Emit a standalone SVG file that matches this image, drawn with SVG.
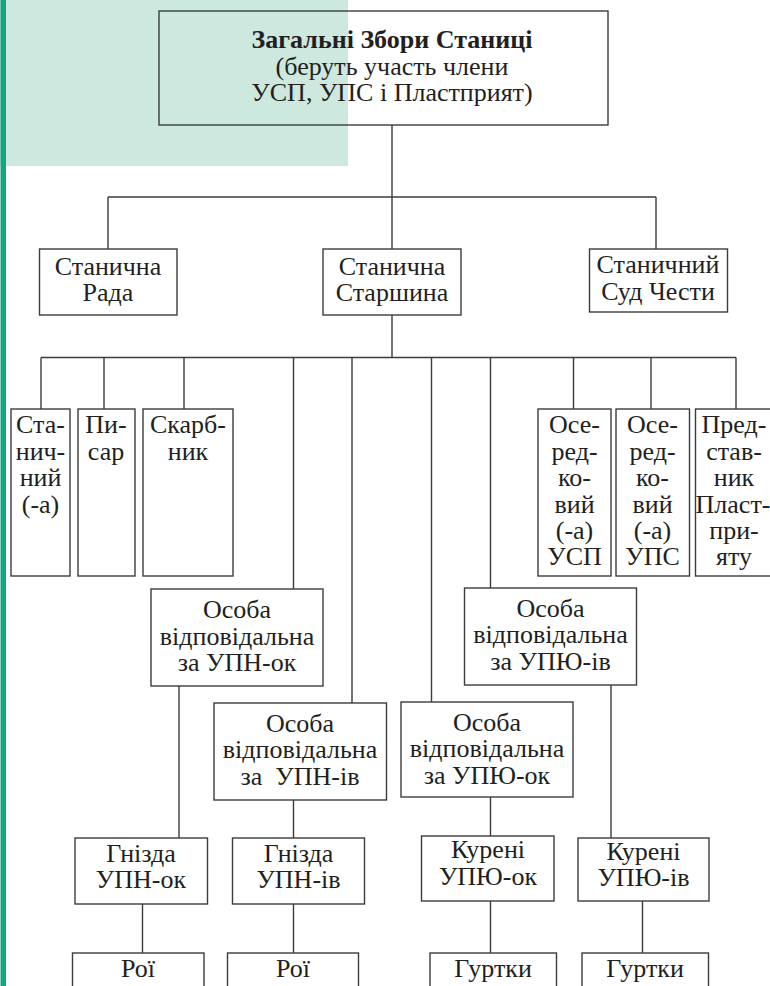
<svg xmlns="http://www.w3.org/2000/svg" width="770" height="986" viewBox="0 0 770 986">
<style>
.bx{fill:none;stroke:#3c3c3c;stroke-width:1.4}
.ln{fill:none;stroke:#3c3c3c;stroke-width:1.4}
text{font-family:"Liberation Serif",serif;font-size:26px;fill:#231f20;text-anchor:middle}
.b{font-weight:bold}
</style>
<rect x="0" y="0" width="770" height="986" fill="#ffffff"/>
<rect x="0" y="0" width="348" height="166" fill="#cce8df"/>
<rect x="0.5" y="0" width="5.5" height="986" fill="#12a683"/>
<g id="connectors">
<path class="ln" d="M392 125V197M108 197H656M108 197V249M392 197V249M656 197V249"/>
<path class="ln" d="M392 315V357.5M41 357.5H736M41 357.5V409M104 357.5V409M184 357.5V409M293.5 357.5V589M352 357.5V703M431.5 357.5V702M490.5 357.5V588M573.5 357.5V409M651 357.5V409M736 357.5V409"/>
<path class="ln" d="M179 686V838M293.5 800V838M142.5 904V953M293.5 904V953"/>
<path class="ln" d="M490.5 797V836M611 685V838M490.5 901V953M642.5 901V953"/>
</g>
<g id="n-zbory"><rect class="bx" x="159" y="11" width="449" height="114"/>
<text x="392" y="48" class="b">Загальні Збори Станиці</text>
<text x="392" y="75">(беруть участь члени</text>
<text x="392" y="101">УСП, УПС і Пластприят)</text></g>
<g id="n-rada"><rect class="bx" x="39.5" y="249" width="137.5" height="66"/>
<text x="108" y="275">Станична</text><text x="108" y="301">Рада</text></g>
<g id="n-starshyna"><rect class="bx" x="323" y="249" width="138" height="66"/>
<text x="392" y="275">Станична</text><text x="392" y="301">Старшина</text></g>
<g id="n-sud"><rect class="bx" x="589.5" y="249" width="138" height="63"/>
<text x="658" y="273">Станичний</text><text x="658" y="300">Суд Чести</text></g>
<g id="n-stanychnyi"><rect class="bx" x="11" y="409" width="59" height="167"/>
<text x="40.5" y="433">Ста-</text><text x="40.5" y="460">нич-</text><text x="40.5" y="486">ний</text><text x="40.5" y="513">(-а)</text></g>
<g id="n-pysar"><rect class="bx" x="78" y="409" width="57" height="167"/>
<text x="106" y="433">Пи-</text><text x="106" y="460">сар</text></g>
<g id="n-skarbnyk"><rect class="bx" x="143" y="409" width="90" height="167"/>
<text x="188" y="433">Скарб-</text><text x="188" y="460">ник</text></g>
<g id="n-usp"><rect class="bx" x="538" y="409" width="73" height="167"/>
<text x="574.5" y="433">Осе-</text><text x="574.5" y="460">ред-</text><text x="574.5" y="486">ко-</text><text x="574.5" y="513">вий</text><text x="574.5" y="539">(-а)</text><text x="574.5" y="565">УСП</text></g>
<g id="n-ups"><rect class="bx" x="616" y="409" width="73.5" height="167"/>
<text x="652.5" y="433">Осе-</text><text x="652.5" y="460">ред-</text><text x="652.5" y="486">ко-</text><text x="652.5" y="513">вий</text><text x="652.5" y="539">(-а)</text><text x="652.5" y="565">УПС</text></g>
<g id="n-predstavnyk"><rect class="bx" x="695.5" y="409" width="90" height="167"/>
<text x="734" y="433">Пред-</text><text x="734" y="460">став-</text><text x="734" y="486">ник</text><text x="733" y="513">Пласт-</text><text x="734" y="539">при-</text><text x="734" y="565">яту</text></g>
<g id="n-upn-ok"><rect class="bx" x="151" y="589" width="172" height="97"/>
<text x="237" y="618">Особа</text><text x="237" y="645">відповідальна</text><text x="237" y="671">за УПН-ок</text></g>
<g id="n-upn-iv"><rect class="bx" x="214" y="703" width="172.5" height="97"/>
<text x="300" y="732">Особа</text><text x="300" y="758">відповідальна</text><text x="300" y="785" xml:space="preserve">за  УПН-ів</text></g>
<g id="n-upyu-ok"><rect class="bx" x="401" y="702" width="172" height="95"/>
<text x="487" y="731">Особа</text><text x="487" y="757">відповідальна</text><text x="487" y="784">за УПЮ-ок</text></g>
<g id="n-upyu-iv"><rect class="bx" x="464.5" y="588" width="172" height="97"/>
<text x="550.5" y="617">Особа</text><text x="550.5" y="643">відповідальна</text><text x="550.5" y="670">за УПЮ-ів</text></g>
<g id="n-hnizda-ok"><rect class="bx" x="75" y="838" width="132.5" height="66"/>
<text x="141" y="862">Гнізда</text><text x="141" y="888">УПН-ок</text></g>
<g id="n-hnizda-iv"><rect class="bx" x="232.5" y="838" width="132" height="66"/>
<text x="298.5" y="862">Гнізда</text><text x="298.5" y="888">УПН-ів</text></g>
<g id="n-kureni-ok"><rect class="bx" x="421.5" y="836" width="132.5" height="65"/>
<text x="488" y="858">Курені</text><text x="488" y="885">УПЮ-ок</text></g>
<g id="n-kureni-iv"><rect class="bx" x="578" y="838" width="131" height="63"/>
<text x="643.5" y="860">Курені</text><text x="643.5" y="886">УПЮ-ів</text></g>
<g id="n-roi-ok"><rect class="bx" x="72.5" y="953" width="131.5" height="50"/>
<text x="138" y="977">Рої</text></g>
<g id="n-roi-iv"><rect class="bx" x="227.5" y="953" width="131" height="50"/>
<text x="293" y="977">Рої</text></g>
<g id="n-hurtky-ok"><rect class="bx" x="430" y="953" width="126.5" height="50"/>
<text x="493" y="977">Гуртки</text></g>
<g id="n-hurtky-iv"><rect class="bx" x="582" y="953" width="126.5" height="50"/>
<text x="645" y="977">Гуртки</text></g>
</svg>
